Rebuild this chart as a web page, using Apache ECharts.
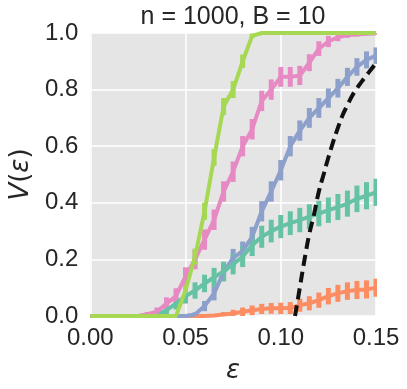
<!DOCTYPE html>
<html>
<head>
<meta charset="utf-8">
<script src="https://cdn.jsdelivr.net/npm/echarts@6/dist/echarts.min.js"></script>
<style>
  html, body { margin: 0; padding: 0; background: #fff; }
  #main { width: 407px; height: 389px; }
</style>
</head>
<body>
<div id="main"></div>
<script>
// epsilon grid
var eps = [0, 0.005, 0.01, 0.015, 0.02, 0.025, 0.03, 0.035, 0.04, 0.045,
    0.05, 0.055, 0.06, 0.065, 0.07, 0.075, 0.08, 0.085, 0.09, 0.095,
    0.10, 0.105, 0.11, 0.115, 0.12, 0.125, 0.13, 0.135, 0.14, 0.145, 0.15];

var green = [0, 0, 0, 0, 0, 0, 0, 0, 0, 0,
    0.09, 0.21, 0.37, 0.56, 0.74, 0.80, 0.90, 0.99, 1, 1,
    1, 1, 1, 1, 1, 1, 1, 1, 1, 1, 1];
var greenErr = [0, 0, 0, 0, 0, 0, 0, 0, 0, 0,
    0.02, 0.028, 0.03, 0.03, 0.03, 0.03, 0.024, 0.008, 0, 0,
    0, 0, 0, 0, 0, 0, 0, 0, 0, 0, 0];

var pink = [0, 0, 0, 0, 0, 0, 0.006, 0.015, 0.044, 0.07,
    0.14, 0.20, 0.27, 0.34, 0.44, 0.51, 0.60, 0.66, 0.76, 0.80,
    0.845, 0.845, 0.85, 0.895, 0.945, 0.97, 0.985, 0.993, 0.995, 0.997, 0.998];
var pinkErr = [0, 0, 0, 0, 0, 0, 0.008, 0.015, 0.022, 0.028,
    0.032, 0.035, 0.036, 0.036, 0.036, 0.036, 0.036, 0.036, 0.036, 0.036,
    0.035, 0.035, 0.034, 0.03, 0.026, 0.02, 0.014, 0.01, 0.007, 0.005, 0.004];

var blue = [0, 0, 0, 0, 0, 0, 0, 0, 0, 0,
    0, 0.005, 0.035, 0.08, 0.155, 0.205, 0.23, 0.28, 0.37, 0.44,
    0.515, 0.60, 0.655, 0.70, 0.735, 0.77, 0.805, 0.845, 0.88, 0.905, 0.92];
var blueErr = [0, 0, 0, 0, 0, 0, 0, 0, 0, 0,
    0, 0.008, 0.018, 0.025, 0.03, 0.032, 0.033, 0.035, 0.036, 0.036,
    0.036, 0.036, 0.036, 0.035, 0.035, 0.034, 0.033, 0.032, 0.031, 0.03, 0.029];

var teal = [0, 0, 0, 0, 0, 0, 0, 0.005, 0.02, 0.045,
    0.07, 0.09, 0.115, 0.137, 0.157, 0.183, 0.21, 0.25, 0.28, 0.30,
    0.316, 0.328, 0.339, 0.351, 0.362, 0.374, 0.385, 0.397, 0.414, 0.425, 0.437];
var tealErr = [0, 0, 0, 0, 0, 0, 0, 0.008, 0.015, 0.022,
    0.026, 0.029, 0.031, 0.033, 0.035, 0.036, 0.037, 0.038, 0.039, 0.04,
    0.041, 0.042, 0.043, 0.044, 0.045, 0.045, 0.046, 0.046, 0.047, 0.048, 0.048];

var orange = [0, 0, 0, 0, 0, 0, 0, 0, 0, 0,
    0, 0, 0, 0.002, 0.005, 0.009, 0.015, 0.02, 0.025, 0.027,
    0.027, 0.028, 0.038, 0.045, 0.056, 0.07, 0.08, 0.088, 0.092, 0.094, 0.10];
var orangeErr = [0, 0, 0, 0, 0, 0, 0, 0, 0, 0,
    0, 0, 0, 0.005, 0.009, 0.013, 0.015, 0.017, 0.018, 0.019,
    0.02, 0.021, 0.023, 0.025, 0.027, 0.029, 0.03, 0.031, 0.032, 0.032, 0.032];

// dashed reference curve
var refEps = [0.1075, 0.11, 0.1125, 0.115, 0.1175, 0.12, 0.1225, 0.125, 0.1275,
    0.13, 0.1325, 0.135, 0.1375, 0.14, 0.1425, 0.145, 0.1475, 0.15];
var refV = [0, 0.10, 0.20, 0.29, 0.36, 0.44, 0.50, 0.56, 0.615,
    0.665, 0.71, 0.745, 0.778, 0.805, 0.828, 0.85, 0.872, 0.893];

var xTicks = ['0.00', '0.05', '0.10', '0.15'];

function pairs(xs, ys) {
    return xs.map(function (x, i) { return [x, ys[i]]; });
}
function triples(xs, ys, es) {
    return xs.map(function (x, i) { return [x, ys[i], es[i]]; });
}

function errRender(params, api) {
    var e = api.value(2);
    if (!e) return;
    var x = api.value(0), y = api.value(1);
    var top = api.coord([x, y + e]);
    var bot = api.coord([x, y - e]);
    var w = 5;
    return {
        type: 'rect',
        shape: {x: top[0] - w / 2, y: top[1], width: w, height: bot[1] - top[1]},
        style: {fill: api.visual('color')}
    };
}

function makeSeries(name, color, vals, errs) {
    return [
        {
            name: name,
            type: 'line',
            data: pairs(eps, vals),
            showSymbol: false,
            clip: true,
            lineStyle: {width: 4, color: color},
            itemStyle: {color: color}
        },
        {
            name: name + '-err',
            type: 'custom',
            renderItem: errRender,
            data: triples(eps, vals, errs),
            clip: true,
            itemStyle: {color: color}
        }
    ];
}

var myChart = echarts.init(document.getElementById('main'));

var series = [].concat(
    makeSeries('orange', '#fc8d62', orange, orangeErr),
    makeSeries('blue', '#8da0cb', blue, blueErr),
    makeSeries('teal', '#66c2a5', teal, tealErr),
    makeSeries('pink', '#e78ac3', pink, pinkErr),
    makeSeries('green', '#a6d854', green, greenErr),
    [{
        name: 'ref',
        type: 'line',
        data: pairs(refEps, refV),
        showSymbol: false,
        smooth: true,
        clip: true,
        lineStyle: {width: 4, color: '#111', type: [11, 6]}
    }]
);

var option = {
    animation: false,
    title: {
        text: 'n = 1000, B = 10',
        left: 228,
        textAlign: 'center',
        top: 0,
        textStyle: {fontFamily: 'Liberation Sans', fontSize: 25, fontWeight: 'normal', color: '#262626'}
    },
    grid: {
        left: 80, right: 31, top: 33, bottom: 68,
        show: true, backgroundColor: '#e5e5e5', borderWidth: 0
    },
    xAxis: {
        type: 'value',
        min: 0, max: 0.15, interval: 0.05,
        name: 'ε',
        nameLocation: 'middle',
        nameGap: 42,
        nameTextStyle: {fontFamily: 'DejaVu Sans', fontStyle: 'italic', fontSize: 26, color: '#262626'},
        axisLine: {show: false},
        axisTick: {show: false},
        axisLabel: {
            fontFamily: 'Liberation Sans', fontSize: 24, color: '#262626', margin: 10,
            formatter: function (v) { return xTicks[Math.round(v / 0.05)]; }
        },
        splitLine: {lineStyle: {color: '#fff', width: 1.5}}
    },
    yAxis: {
        type: 'value',
        min: 0, max: 1, interval: 0.2,
        name: '{i|V}{n|(}{i|ε}{n|)}',
        nameLocation: 'middle',
        nameGap: 52,
        nameTextStyle: {
            rich: {
                i: {fontFamily: 'DejaVu Sans', fontStyle: 'italic', fontSize: 26, color: '#262626'},
                n: {fontFamily: 'DejaVu Sans', fontSize: 26, color: '#262626'}
            }
        },
        axisLine: {show: false},
        axisTick: {show: false},
        axisLabel: {
            fontFamily: 'Liberation Sans', fontSize: 24, color: '#262626', margin: 12,
            formatter: function (v) { return v.toFixed(1); }
        },
        splitLine: {lineStyle: {color: '#fff', width: 1.5}}
    },
    series: series
};

myChart.setOption(option);
</script>
</body>
</html>
